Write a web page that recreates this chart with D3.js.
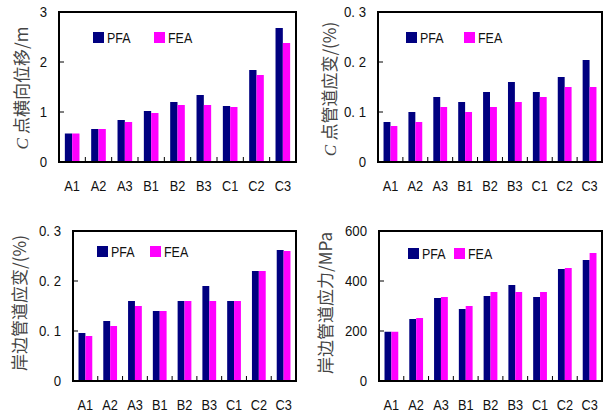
<!DOCTYPE html>
<html>
<head>
<meta charset="utf-8">
<script src="https://cdn.jsdelivr.net/npm/d3@7"></script>
<style>
  body { margin: 0; background: #fff; }
  svg { display: block; }
  .tick-label, .cat-label, .legend-text {
    font-family: "Liberation Sans Narrow", "Arial Narrow", "Liberation Sans", Arial, sans-serif;
    fill: #111;
  }
  .y-title { font-family: "Noto Sans CJK SC", sans-serif; fill: #444; }
</style>
</head>
<body>
<div id="chart"></div>
<script>
// categories and series
var categories = ["A1", "A2", "A3", "B1", "B2", "B3", "C1", "C2", "C3"];
var seriesNames = ["PFA", "FEA"];

// C point lateral displacement (m)
var dispPFA = [0.57, 0.66, 0.84, 1.02, 1.20, 1.34, 1.12, 1.84, 2.68];
var dispFEA = [0.57, 0.66, 0.80, 0.98, 1.14, 1.14, 1.10, 1.74, 2.38];

// C point pipe strain (%)
var strainCPFA = [0.080, 0.10, 0.13, 0.12, 0.14, 0.16, 0.14, 0.17, 0.204];
var strainCFEA = [0.072, 0.08, 0.11, 0.10, 0.11, 0.12, 0.13, 0.15, 0.150];

// bank pipe strain (%)
var strainBankPFA = [0.096, 0.12, 0.16, 0.14, 0.16, 0.19, 0.16, 0.22, 0.262];
var strainBankFEA = [0.090, 0.11, 0.15, 0.14, 0.16, 0.16, 0.16, 0.22, 0.260];

// bank pipe stress (MPa)
var stressPFA = [197, 248, 332, 288, 340, 384, 336, 448, 484];
var stressFEA = [197, 252, 336, 300, 356, 356, 356, 452, 512];

// y tick values + labels
var dispTicks = [0, 1, 2, 3];
var dispTickLabels = ["0", "1", "2", "3"];
var strainTicks = [0, 0.1, 0.2, 0.3];
var strainTickLabels = ["0", "0. 1", "0. 2", "0. 3"];
var stressTicks = [0, 200, 400, 600];
var stressTickLabels = ["0", "200", "400", "600"];

var colors = { PFA: "#000080", FEA: "#ff00ff" };

var svg = d3.select("#chart")
  .append("svg")
  .attr("width", 607)
  .attr("height", 414);

// squeeze latin text a bit, the original font is narrow
function narrow(sel, k) {
  sel.each(function() {
    var w = this.getComputedTextLength();
    d3.select(this)
      .attr("textLength", w * k)
      .attr("lengthAdjust", "spacingAndGlyphs");
  });
}

function drawPanel(p) {
  var g = svg.append("g");

  var x = d3.scaleBand()
    .domain(categories)
    .range([p.left, p.right]);

  var xSub = d3.scaleBand()
    .domain(seriesNames)
    .range([0, x.bandwidth()])
    .paddingOuter(0.8);

  var y = d3.scaleLinear()
    .domain([0, p.max])
    .range([p.bottom, p.top]);

  var rows = categories.map(function(c, i) {
    return { cat: c, PFA: p.pfa[i], FEA: p.fea[i] };
  });

  // bars
  seriesNames.forEach(function(s) {
    g.selectAll(".bar-" + s)
      .data(rows)
      .enter()
      .append("rect")
      .attr("x", d => x(d.cat) + xSub(s))
      .attr("y", d => y(d[s]))
      .attr("width", xSub.bandwidth())
      .attr("height", d => y(0) - y(d[s]))
      .attr("fill", colors[s]);
  });

  // inward ticks on x between categories
  g.selectAll(".xtick")
    .data(categories.slice(1))
    .enter()
    .append("line")
    .attr("x1", d => x(d))
    .attr("x2", d => x(d))
    .attr("y1", p.bottom)
    .attr("y2", p.bottom - 5)
    .attr("stroke", "#000")
    .attr("stroke-width", 1);

  // inward ticks on y
  g.selectAll(".ytick")
    .data(p.ticks.slice(1, -1))
    .enter()
    .append("line")
    .attr("x1", p.left)
    .attr("x2", p.left + 5)
    .attr("y1", d => y(d))
    .attr("y2", d => y(d))
    .attr("stroke", "#000")
    .attr("stroke-width", 1);

  // frame
  g.append("rect")
    .attr("x", p.left)
    .attr("y", p.top)
    .attr("width", p.right - p.left)
    .attr("height", p.bottom - p.top)
    .attr("fill", "none")
    .attr("stroke", "#000")
    .attr("stroke-width", 2);

  // y tick labels
  g.selectAll(".tick-label")
    .data(p.ticks)
    .enter()
    .append("text")
    .attr("class", "tick-label")
    .attr("x", p.left - 12)
    .attr("y", d => y(d) + 5)
    .attr("text-anchor", "end")
    .attr("font-size", 15)
    .text((d, i) => p.tickLabels[i])
    .call(narrow, 0.88);

  // category labels
  g.selectAll(".cat-label")
    .data(categories)
    .enter()
    .append("text")
    .attr("class", "cat-label")
    .attr("x", d => x(d) + x.bandwidth() / 2)
    .attr("y", p.bottom + 29)
    .attr("text-anchor", "middle")
    .attr("font-size", 15)
    .text(d => d)
    .call(narrow, 0.85);

  // legend
  seriesNames.forEach(function(s, i) {
    var lx = p.legend[i];
    g.append("rect")
      .attr("x", lx)
      .attr("y", p.legendY)
      .attr("width", 11)
      .attr("height", 11)
      .attr("fill", colors[s]);
    g.append("text")
      .attr("class", "legend-text")
      .attr("x", lx + 14)
      .attr("y", p.legendY + 11)
      .attr("font-size", 15)
      .text(s)
      .call(narrow, 0.83);
  });

  // y title
  var t = g.append("text")
    .attr("class", "y-title")
    .attr("transform", `translate(${p.titleX}, ${p.titleY}) rotate(-90)`)
    .attr("text-anchor", "middle")
    .attr("dy", "0.35em")
    .attr("font-size", 17);
  if (p.italicC) {
    t.append("tspan")
      .attr("font-family", "Liberation Serif, serif")
      .attr("font-style", "italic")
      .text("C ");
  }
  t.append("tspan").text(p.title);
}

drawPanel({
  left: 59, right: 296, top: 12, bottom: 162, max: 3,
  pfa: dispPFA, fea: dispFEA,
  ticks: dispTicks, tickLabels: dispTickLabels,
  legend: [93, 154], legendY: 32,
  titleX: 22, titleY: 88, italicC: true, title: "点横向位移/m"
});

drawPanel({
  left: 378, right: 602, top: 12, bottom: 162, max: 0.3,
  pfa: strainCPFA, fea: strainCFEA,
  ticks: strainTicks, tickLabels: strainTickLabels,
  legend: [406, 464], legendY: 32,
  titleX: 330, titleY: 89, italicC: true, title: "点管道应变/(%)"
});

drawPanel({
  left: 73, right: 296, top: 231, bottom: 381, max: 0.3,
  pfa: strainBankPFA, fea: strainBankFEA,
  ticks: strainTicks, tickLabels: strainTickLabels,
  legend: [97, 150], legendY: 246,
  titleX: 20, titleY: 303, italicC: false, title: "岸边管道应变/(%)"
});

drawPanel({
  left: 379, right: 602, top: 231, bottom: 381, max: 600,
  pfa: stressPFA, fea: stressFEA,
  ticks: stressTicks, tickLabels: stressTickLabels,
  legend: [408, 454], legendY: 248,
  titleX: 326, titleY: 303, italicC: false, title: "岸边管道应力/MPa"
});
</script>
</body>
</html>
